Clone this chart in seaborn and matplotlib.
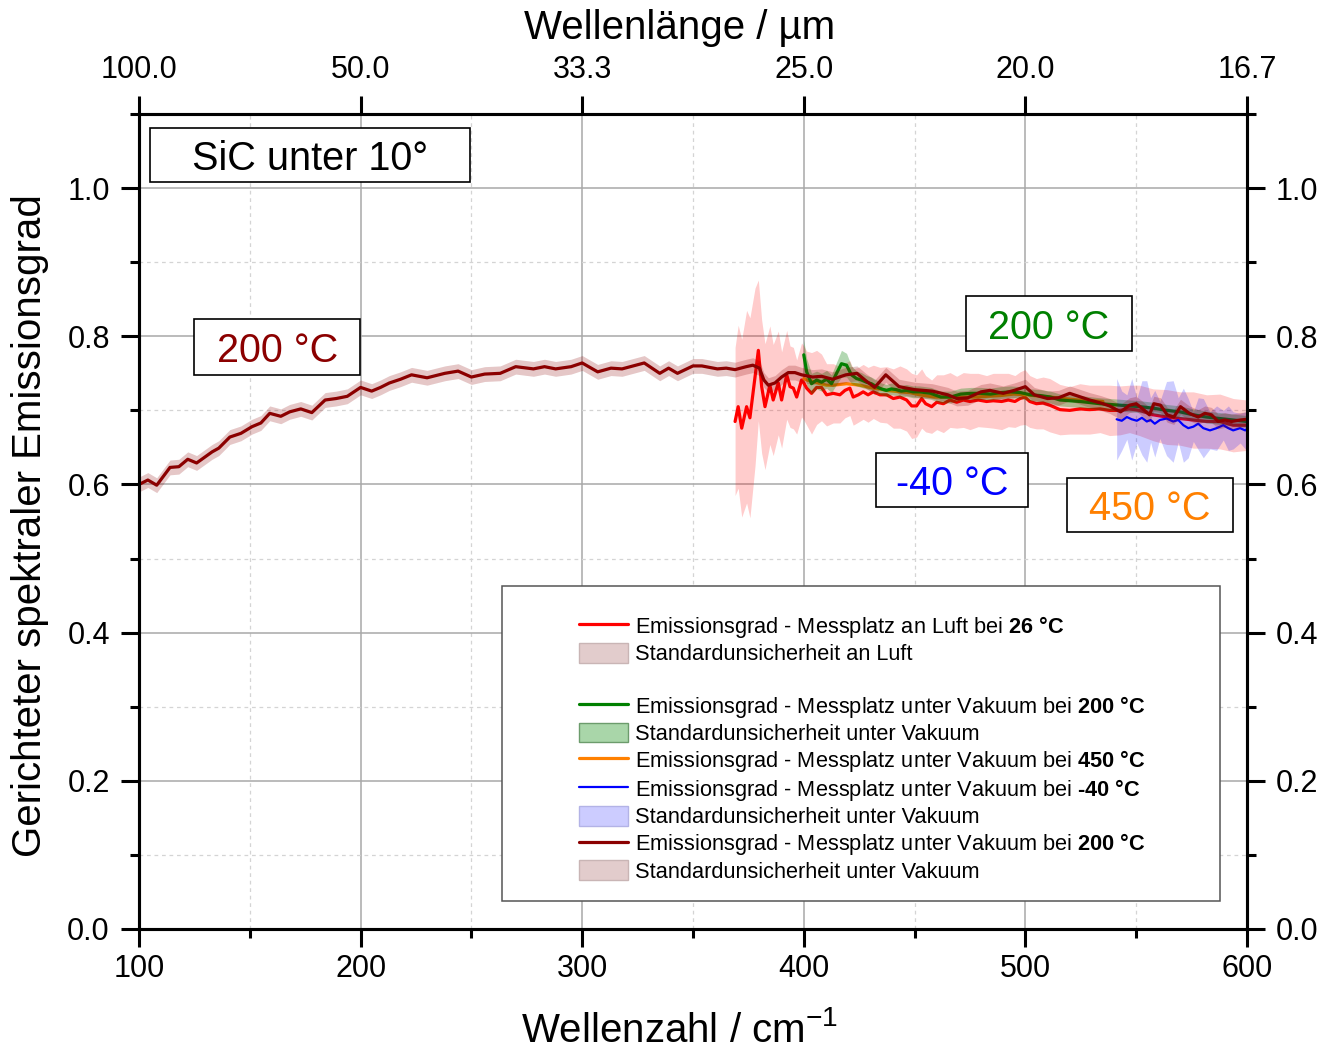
import numpy as np
import pandas as pd
import matplotlib
matplotlib.use("Agg")
import matplotlib.pyplot as plt
import seaborn as sns
from matplotlib.patches import Rectangle, Patch
from matplotlib.lines import Line2D
from matplotlib.ticker import MultipleLocator, FixedLocator

# ---------------- data ----------------
darkred_x = [100, 104, 108, 114, 118, 122, 126, 133, 136, 141,
             146, 151, 155, 159, 164, 168, 173, 178, 184, 189,
             194, 200, 205, 209, 213, 218, 223, 230, 234, 238,
             244, 250, 256, 263, 270, 278, 283, 288, 295, 300,
             307, 313, 318, 323, 328, 335, 339, 343, 350, 354,
             361, 365, 369, 374, 377, 380, 382, 384, 387, 390,
             393, 396, 399, 404, 408, 413, 419, 424, 428, 432,
             437, 443, 450, 458, 465, 469, 474, 480, 484, 490,
             495, 500, 504, 510, 515, 520, 525, 529, 534, 538,
             543, 547, 550, 553, 556, 558, 561, 564, 567, 570,
             574, 578, 581, 584, 587, 590, 593, 597, 600]
darkred_y = [0.600, 0.606, 0.599, 0.623, 0.624, 0.634, 0.629, 0.644, 0.649, 0.664,
             0.669, 0.678, 0.683, 0.696, 0.692, 0.698, 0.702, 0.697, 0.714, 0.716,
             0.719, 0.731, 0.726, 0.731, 0.737, 0.742, 0.748, 0.744, 0.747, 0.750,
             0.753, 0.745, 0.749, 0.750, 0.759, 0.756, 0.759, 0.756, 0.759, 0.764,
             0.752, 0.757, 0.756, 0.760, 0.764, 0.750, 0.757, 0.750, 0.760, 0.760,
             0.756, 0.757, 0.755, 0.759, 0.761, 0.757, 0.741, 0.734, 0.737, 0.745,
             0.751, 0.751, 0.748, 0.745, 0.746, 0.742, 0.748, 0.750, 0.740, 0.731,
             0.748, 0.732, 0.728, 0.726, 0.721, 0.716, 0.717, 0.725, 0.727, 0.723,
             0.727, 0.732, 0.721, 0.716, 0.717, 0.723, 0.718, 0.714, 0.710, 0.706,
             0.698, 0.707, 0.709, 0.702, 0.694, 0.709, 0.707, 0.694, 0.691, 0.705,
             0.696, 0.691, 0.696, 0.694, 0.685, 0.687, 0.685, 0.687, 0.688]
darkred_unc = 0.010

red_x = [369, 370.4, 372, 374.2, 375.7, 378, 379.5, 381, 382.5, 384.7,
         386.2, 388.5, 390, 392.3, 393.8, 395.3, 396.8, 399, 400, 401.3,
         403.5, 405.8, 408, 410.3, 413.3, 416.3, 418.6, 420.8, 422.3, 424.6,
         426.8, 429, 431.4, 434.4, 437.4, 440.4, 443.4, 446.4, 448.7, 450.9,
         453.2, 455, 457.7, 460, 463, 466, 469, 472, 475, 478.7,
         482.5, 485.5, 489.3, 492.3, 495.3, 497.6, 499.8, 502, 505, 508,
         511, 515.6, 520, 524.6, 529, 533.7, 538, 542.7, 547, 551.5,
         557.7, 563.8, 569.8, 575.8, 581.8, 587.8, 593.8, 600]
red_y = [0.685, 0.705, 0.676, 0.705, 0.690, 0.745, 0.781, 0.732, 0.705, 0.734,
         0.714, 0.737, 0.714, 0.748, 0.732, 0.730, 0.718, 0.741, 0.737, 0.730,
         0.723, 0.731, 0.731, 0.721, 0.723, 0.721, 0.727, 0.730, 0.718, 0.721,
         0.725, 0.721, 0.725, 0.721, 0.721, 0.716, 0.718, 0.714, 0.706, 0.706,
         0.716, 0.709, 0.705, 0.711, 0.709, 0.714, 0.711, 0.714, 0.712, 0.714,
         0.712, 0.713, 0.712, 0.714, 0.712, 0.716, 0.718, 0.712, 0.709, 0.710,
         0.707, 0.701, 0.700, 0.702, 0.701, 0.702, 0.700, 0.700, 0.702, 0.700,
         0.694, 0.691, 0.689, 0.687, 0.685, 0.685, 0.680, 0.680]
red_unc = [0.10, 0.11, 0.12, 0.13, 0.135, 0.12, 0.095, 0.09, 0.085, 0.08,
           0.075, 0.07, 0.065, 0.06, 0.055, 0.055, 0.05, 0.05, 0.05, 0.05,
           0.055, 0.05, 0.045, 0.042, 0.04, 0.038, 0.037, 0.037, 0.038, 0.037,
           0.037, 0.037, 0.036, 0.037, 0.038, 0.04, 0.042, 0.042, 0.044, 0.042,
           0.04, 0.038, 0.036, 0.037, 0.039, 0.037, 0.035, 0.037, 0.038, 0.036,
           0.035, 0.037, 0.038, 0.036, 0.035, 0.036, 0.037, 0.035, 0.034, 0.035,
           0.036, 0.034, 0.032, 0.034, 0.033, 0.032, 0.034, 0.033, 0.032, 0.034,
           0.035, 0.037, 0.036, 0.038, 0.036, 0.037, 0.036, 0.034]

green_x = [400, 401.3, 403.5, 405.8, 408, 410.3, 412.5, 414.8, 417, 419.3,
           421.5, 423.8, 426, 428.3, 430.5, 432.8, 435, 437.3, 439.5, 441.8,
           444, 446.3, 449.3, 452.3, 457.3, 461.8, 466.3, 470.8, 475.3, 479.8,
           484.3, 488.8, 493.3, 497.8, 502.3, 506.8, 511.3, 515.6, 524.6, 533.7,
           542.7, 551.7, 557.7, 563.8, 569.8, 575.8, 581.8, 587.8, 593.8, 600]
green_y = [0.775, 0.752, 0.736, 0.741, 0.738, 0.742, 0.736, 0.750, 0.763, 0.761,
           0.748, 0.743, 0.741, 0.738, 0.736, 0.732, 0.729, 0.727, 0.729, 0.728,
           0.726, 0.727, 0.725, 0.725, 0.723, 0.718, 0.718, 0.722, 0.723, 0.723,
           0.722, 0.724, 0.725, 0.724, 0.721, 0.720, 0.718, 0.714, 0.712, 0.709,
           0.707, 0.705, 0.703, 0.700, 0.698, 0.694, 0.691, 0.689, 0.687, 0.685]
green_unc = [0.020, 0.018, 0.014, 0.012, 0.012, 0.012, 0.012, 0.015, 0.018, 0.016,
             0.012, 0.010, 0.010, 0.009, 0.009, 0.009, 0.008, 0.008, 0.008, 0.008,
             0.008, 0.008, 0.008, 0.008, 0.008, 0.008, 0.008, 0.008, 0.008, 0.008,
             0.008, 0.008, 0.008, 0.008, 0.008, 0.008, 0.008, 0.008, 0.008, 0.008,
             0.008, 0.008, 0.008, 0.008, 0.008, 0.008, 0.008, 0.008, 0.008, 0.008]

orange_x = [400, 401.3, 404.3, 407.3, 410.3, 413.3, 416.3, 419.3, 422.3, 425.3,
            428.3, 431.3, 434.3, 437.3, 440.4, 443.4, 447.9, 452.4, 458.8, 464.8,
            470.8, 476.8, 482.8, 488.8, 494.8, 500.8, 506.8, 511.3, 517, 524, 530, 535]
orange_y = [0.743, 0.741, 0.739, 0.736, 0.734, 0.734, 0.735, 0.736, 0.735, 0.734,
            0.732, 0.730, 0.729, 0.727, 0.726, 0.725, 0.724, 0.721, 0.718, 0.718,
            0.718, 0.718, 0.719, 0.720, 0.722, 0.721, 0.719, 0.718, 0.716, 0.714, 0.713, 0.712]

blue_x = [541.2, 543.5, 545.8, 548, 550.3, 552.6, 554.8, 556.5, 558.4, 560.7,
          563.7, 566.7, 569, 571.3, 573.5, 575.8, 578, 580.3, 583.3, 586.3,
          589.3, 591.6, 593.8, 596.9, 599.2, 600]
blue_y = [0.688, 0.686, 0.691, 0.688, 0.686, 0.690, 0.685, 0.687, 0.682, 0.687,
          0.689, 0.685, 0.687, 0.680, 0.676, 0.678, 0.682, 0.676, 0.673, 0.676,
          0.680, 0.676, 0.673, 0.676, 0.673, 0.675]
blue_unc = [0.055, 0.04, 0.03, 0.055, 0.03, 0.05, 0.055, 0.03, 0.045, 0.025,
            0.05, 0.055, 0.03, 0.05, 0.04, 0.02, 0.035, 0.04, 0.025, 0.03,
            0.02, 0.03, 0.025, 0.02, 0.025, 0.02]

x_ticks = [100, 200, 300, 400, 500, 600]
y_ticks = [0.0, 0.2, 0.4, 0.6, 0.8, 1.0]
top_tick_labels = [f"{10000 / v:.1f}" for v in x_ticks]

HY = "\u2010"  # typographic hyphen, shown as in the reference
legend_labels = [
    r"Emissionsgrad - Messplatz an Luft bei $\mathbf{26\ °C}$",
    "Standardunsicherheit an Luft",
    "Standardunsicherheit",          # spacer row (hidden below)
    r"Emissionsgrad - Messplatz unter Vakuum bei $\mathbf{200\ °C}$",
    "Standardunsicherheit unter Vakuum",
    r"Emissionsgrad - Messplatz unter Vakuum bei $\mathbf{450\ °C}$",
    r"Emissionsgrad - Messplatz unter Vakuum bei $\mathbf{" + HY + r"40\ °C}$",
    "Standardunsicherheit unter Vakuum",
    r"Emissionsgrad - Messplatz unter Vakuum bei $\mathbf{200\ °C}$",
    "Standardunsicherheit unter Vakuum",
]

# ---------------- style ----------------
sns.set_theme(style="ticks")
plt.rcParams['font.family'] = ['Liberation Sans', 'DejaVu Sans']
plt.rcParams['mathtext.fontset'] = 'custom'
plt.rcParams['mathtext.rm'] = 'Liberation Sans'
plt.rcParams['mathtext.it'] = 'Liberation Sans:italic'
plt.rcParams['mathtext.bf'] = 'Liberation Sans:bold'
plt.rcParams.update({'text.color': 'black', 'axes.labelcolor': 'black',
                     'xtick.color': 'black', 'ytick.color': 'black',
                     'axes.edgecolor': 'black'})

C_RED = "#ff0000"
C_DRED = "#8b0000"
C_GREEN = "#008000"
C_ORANGE = "#ff8000"
C_BLUE = "#0000ff"

fig = plt.figure(figsize=(13.25, 10.49), dpi=100)
ax = fig.add_axes([0.1049, 0.1144, 0.8362, 0.7769])

def band(x, y, unc, color, alpha, z):
    y = np.asarray(y)
    u = np.asarray(unc)
    ax.fill_between(x, y - u, y + u, color=color, alpha=alpha, lw=0, zorder=z)

# air
band(red_x, red_y, red_unc, C_RED, 0.2, 2)
sns.lineplot(x=red_x, y=red_y, ax=ax, color=C_RED, lw=2.3, estimator=None, sort=False, zorder=3)
# vacuum 450
sns.lineplot(x=orange_x, y=orange_y, ax=ax, color=C_ORANGE, lw=2.3, estimator=None, sort=False, zorder=3.2)
# vacuum 200 (green)
band(green_x, green_y, green_unc, C_GREEN, 0.3, 3.3)
sns.lineplot(x=green_x, y=green_y, ax=ax, color=C_GREEN, lw=2.3, estimator=None, sort=False, zorder=3.4)
# vacuum -40
band(blue_x, blue_y, blue_unc, C_BLUE, 0.2, 3.5)
sns.lineplot(x=blue_x, y=blue_y, ax=ax, color=C_BLUE, lw=1.6, estimator=None, sort=False, zorder=3.6)
# vacuum 200 (dark red)
band(darkred_x, darkred_y, [darkred_unc] * len(darkred_x), C_DRED, 0.22, 3.7)
sns.lineplot(x=darkred_x, y=darkred_y, ax=ax, color=C_DRED, lw=2.3, estimator=None, sort=False, zorder=3.8)

# ---------------- axes ----------------
ax.set_xlim(100, 600)
ax.set_ylim(0, 1.1)
ax.xaxis.set_major_locator(FixedLocator(x_ticks))
ax.xaxis.set_minor_locator(MultipleLocator(50))
ax.yaxis.set_major_locator(FixedLocator(y_ticks))
ax.yaxis.set_minor_locator(MultipleLocator(0.1))
ax.set_yticklabels([f"{v:.1f}" for v in y_ticks])
ax.set_xticklabels([str(v) for v in x_ticks])

ax.set_axisbelow(True)
ax.grid(which='major', color='#a8a8a8', lw=1.1, ls='-', zorder=0)
ax.grid(which='minor', color='#d4d4d4', lw=0.9, ls=(0, (3, 3)), zorder=0)

for s in ax.spines.values():
    s.set_linewidth(2.2)
    s.set_color('black')
    s.set_visible(True)

ax.tick_params(which='major', direction='out', length=13, width=2.2, labelsize=22,
               color='black', labelcolor='black',
               bottom=True, top=False, left=True, right=True,
               labelleft=True, labelright=True, labelbottom=True)
ax.tick_params(axis='x', which='major', pad=5)
ax.tick_params(axis='y', which='major', pad=8)
ax.tick_params(which='minor', direction='out', length=6.5, width=2.2, color='black',
               bottom=True, top=False, left=True, right=True)

ax.set_xlabel(r"Wellenzahl / cm$^{-1}$", fontsize=29, color='black')
ax.xaxis.label.set_va('center')
ax.xaxis.set_label_coords(0.488, -0.124)
ax.set_ylabel("Gerichteter spektraler Emissionsgrad", fontsize=29, color='black')
ax.yaxis.label.set_va('center')
ax.yaxis.set_label_coords(-0.0984, 0.4945)

ax2 = ax.twiny()
ax2.set_xlim(ax.get_xlim())
ax2.xaxis.set_major_locator(FixedLocator(x_ticks))
ax2.set_xticklabels(top_tick_labels)
ax2.tick_params(axis='x', which='major', direction='out', length=13, width=2.2,
                labelsize=22, pad=8, color='black', labelcolor='black')
ax2.tick_params(axis='x', which='minor', top=False)
for s in ax2.spines.values():
    s.set_linewidth(2.2)
    s.set_color('black')
ax2.set_xlabel("Wellenlänge / µm", fontsize=29, color='black')
ax2.xaxis.label.set_va('center')
ax2.xaxis.set_label_coords(0.488, 1.105)

# ---------------- annotation boxes ----------------
def label_box(x0, x1, y0, y1, text, color, fs=28.5):
    ax.add_patch(Rectangle((x0, y0), x1 - x0, y1 - y0, facecolor='white',
                           edgecolor='black', lw=1.2, zorder=6))
    ax.text((x0 + x1) / 2, (y0 + y1) / 2, text, color=color, fontsize=fs,
            ha='center', va='center_baseline', zorder=7)

label_box(105.0, 249.4, 1.0081, 1.081, "SiC unter 10°", 'black')
label_box(125.0, 199.7, 0.748, 0.823, "200 °C", C_DRED)
label_box(473.2, 548.1, 0.780, 0.854, "200 °C", C_GREEN)
label_box(432.6, 501.2, 0.5695, 0.642, "-40 °C", C_BLUE)
label_box(518.8, 593.7, 0.5358, 0.6086, "450 °C", C_ORANGE)

# ---------------- legend ----------------
ax.add_patch(Rectangle((263.8, 0.0378), 587.8 - 263.8, 0.4629 - 0.0378,
                       facecolor='white', edgecolor='#555555', lw=1.1, zorder=6))
handles = [
    Line2D([], [], color=C_RED, lw=2.3),
    Patch(facecolor='#e2cccc', edgecolor='#c9b5b5', lw=1),
    Line2D([], [], color='none'),
    Line2D([], [], color=C_GREEN, lw=2.3),
    Patch(facecolor='#a9d6a9', edgecolor='#6c9c6c', lw=1),
    Line2D([], [], color=C_ORANGE, lw=2.3),
    Line2D([], [], color=C_BLUE, lw=1.6),
    Patch(facecolor='#ccccff', edgecolor='#b3b3e6', lw=1),
    Line2D([], [], color=C_DRED, lw=2.3),
    Patch(facecolor='#e2cccc', edgecolor='#c9b5b5', lw=1),
]
leg = ax.legend(handles, legend_labels, loc='upper left',
                bbox_to_anchor=(579 / 1325, 1 - 614 / 1049), bbox_transform=fig.transFigure,
                frameon=False, borderpad=0, borderaxespad=0, fontsize=15.7,
                handlelength=2.25, handleheight=1.0, handletextpad=0.3,
                labelspacing=0.14)
for t in leg.get_texts():
    t.set_color('black')
leg.get_texts()[2].set_visible(False)
leg.set_zorder(8)

fig.savefig("out.png", dpi=100)
